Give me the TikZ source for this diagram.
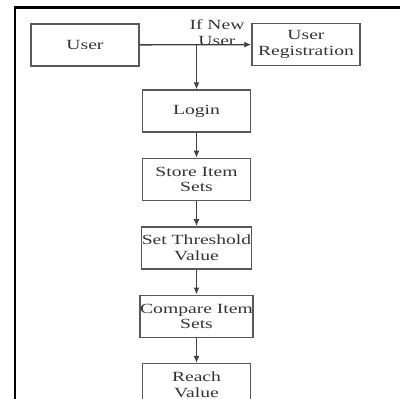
\documentclass[tikz,border=0pt]{standalone}
\usepackage{fontspec}
\setmainfont{Liberation Serif}
\newfontfamily\boxfont[FakeStretch=1.4]{Liberation Serif}
\usetikzlibrary{
    positioning,
    arrows.meta
    }

\begin{document}
\begin{tikzpicture}[x=1pt, y=1pt]
\tikzset{stage/.style =
        {
            rectangle,
            draw=black!65,
            line width=1.4pt,
            minimum width=108pt,
            minimum height=42pt,
            inner sep=0pt,
            align=center,
            text=black!80,
            font=\boxfont\fontsize{14}{15.5}\selectfont
        }
}

\tikzset{flow/.style =
        {
            draw=black!75,
            line width=1.3pt,
            -{Latex[length=7pt, width=6pt]}
        }
}

\tikzset{frame/.style =
        {
            black,
            line width=2.2pt
        }
}

\tikzset{cond/.style =
        {
            align=center,
            inner sep=0pt,
            text=black!80,
            font=\boxfont\fontsize{14}{16}\selectfont
        }
}
		\useasboundingbox (0,0) rectangle (400,-399);
		\draw[frame] (15,-399) -- (15,-7.5) -- (400,-7.5);

		\node[stage] (user) at (85,-45) {User};
		\node[stage] (reg) at (306,-44.5) {User\\Registration};
		\node[stage] (login) at (196.5,-111) {Login};

		\begin{scope}[node distance=25pt, every node/.style = stage]
			\node[below=of login] (store) {Store Item\\Sets};
			\node[below=of store] (thresh) {Set Threshold\\Value};
			\node[below=of thresh] (compare) {Compare Item\\Sets};
			\node[below=of compare] (reach) {Reach\\Value};
		\end{scope}

		\node[cond] (newuser) at (217,-33) {If New\\User};

		\coordinate (split) at (login.north |- user.east);
		\draw [flow] (user) -- (reg);
		\draw [flow] (split) -- (login);

		\foreach \start / \finish in
			{login/store,
				store/thresh,
				thresh/compare,
				compare/reach}
			{
				\draw [flow] (\start) -- (\finish);
			}

	\end{tikzpicture}
\end{document}
